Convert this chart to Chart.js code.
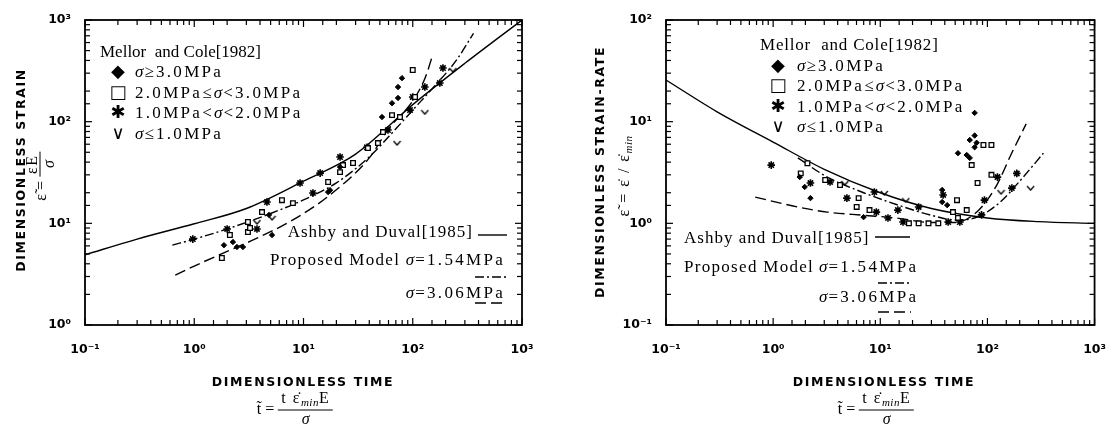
<!DOCTYPE html>
<html>
<head>
<meta charset="utf-8">
<script src="https://cdn.jsdelivr.net/npm/chart.js@4.4.0/dist/chart.umd.min.js"></script>
<style>
  body { margin: 0; width: 1115px; height: 426px; background: #fff; position: relative; overflow: hidden; }
  #left { position: absolute; left: 0; top: 0; width: 560px; height: 426px; }
  #right { position: absolute; left: 560px; top: 0; width: 555px; height: 426px; }
  .ttl { position: absolute; font-family: "DejaVu Sans", sans-serif; font-weight: bold; font-size: 12.5px;
         letter-spacing: 1.6px; white-space: nowrap; transform: translate(-50%, -50%); color: #000; }
  .rot { transform: translate(-50%, -50%) rotate(-90deg); }
  .fx { position: absolute; font-family: "Liberation Serif", serif; font-size: 16px; white-space: nowrap;
        transform: translate(-50%, -50%); display: flex; align-items: center; color: #000; }
  .fx.rot { transform: translate(-50%, -50%) rotate(-90deg); }
  .frac { display: inline-flex; flex-direction: column; align-items: center; margin-left: 4px; }
  .frac .n { border-bottom: 1px solid #000; padding: 0 3px; line-height: 16px; letter-spacing: 1.5px; }
  .frac .d { line-height: 16px; font-style: italic; }
  .sp { letter-spacing: 1.5px; }
  sub { font-size: 11px; font-style: italic; vertical-align: -3px; letter-spacing: 0.5px; }
</style>
</head>
<body>
<div id="left"><canvas id="cl"></canvas></div>
<div id="right"><canvas id="cr"></canvas></div>

<div class="ttl rot" style="left:20px; top:170px;">DIMENSIONLESS STRAIN</div>
<div class="fx rot" style="left:40px; top:176px;"><span>ε̃ =</span><span class="frac"><span class="n">εE</span><span class="d">σ</span></span></div>
<div class="ttl" style="left:303px; top:381px;">DIMENSIONLESS TIME</div>
<div class="fx" style="left:295px; top:408px;"><span>t̃ =</span><span class="frac"><span class="n">t ε̇<sub>min</sub>E</span><span class="d">σ</span></span></div>

<div class="ttl rot" style="left:599px; top:172px;">DIMENSIONLESS STRAIN-RATE</div>
<div class="fx rot" style="left:624px; top:176px;"><span class="sp">ε̃ = ε̇ / ε̇<sub>min</sub></span></div>
<div class="ttl" style="left:884px; top:381px;">DIMENSIONLESS TIME</div>
<div class="fx" style="left:876px; top:408px;"><span>t̃ =</span><span class="frac"><span class="n">t ε̇<sub>min</sub>E</span><span class="d">σ</span></span></div>

<script>
// ---- left panel: dimensionless strain vs dimensionless time ----
const strainDiamondT = [1.87, 2.26, 2.46, 2.79, 5.15, 4.83, 16.8, 17.5, 21.6, 52.3, 64.6, 73.3, 73.3, 79.7];
const strainDiamondE = [6.1, 6.55, 5.85, 5.85, 7.67, 12.1, 20.3, 21.2, 35.8, 111, 152, 171, 219, 268];
const strainSquareT = [1.79, 2.12, 3.1, 3.1, 3.24, 4.17, 6.35, 8.0, 16.8, 21.6, 23, 28.4, 38.9, 48, 53.4, 64.6, 76.4, 100, 105];
const strainSquareE = [4.56, 7.67, 8.2, 10.3, 9.0, 12.9, 16.9, 15.8, 25.5, 31.9, 37.4, 39.2, 55, 61.6, 79, 116, 111, 322, 175];
const strainStarT = [0.97, 2.0, 3.75, 4.63, 9.3, 12.2, 14.2, 21.6, 38.1, 59.3, 94.4, 100, 129, 177, 189];
const strainStarE = [7.0, 8.8, 8.8, 16.2, 24.9, 19.9, 31.2, 44.9, 56, 82.7, 130, 175, 219, 240, 337];
const strainVT = [3.75, 5.15, 71.8, 129, 233];
const strainVE = [10.3, 11.3, 61.6, 124, 322];

const ashbyStrainT = [0.1, 0.3, 1, 3, 10, 30, 100, 300, 1000];
const ashbyStrainE = [4.9, 7.0, 9.9, 14, 26, 48, 147, 375, 1000];
const model154StrainT = [0.63, 1, 2, 5, 10, 20, 40, 70, 100, 150, 250, 360];
const model154StrainE = [6.1, 7, 8.8, 12.5, 17, 25, 45, 85, 130, 210, 400, 740];
const model306StrainT = [0.67, 1, 2, 3.5, 8, 18, 40, 60, 100, 130, 150];
const model306StrainE = [3.1, 3.8, 5.3, 6.9, 10.8, 19.5, 44, 85, 160, 270, 430];

// ---- right panel: dimensionless strain-rate vs dimensionless time ----
const rateDiamondT = [76, 76, 68.4, 79.3, 76, 53.1, 64.1, 68.4, 37.8, 37.8, 42.1, 2.23, 1.97, 1.77, 6.98];
const rateDiamondR = [12.2, 7.3, 6.6, 6.2, 5.6, 4.9, 4.7, 4.4, 2.13, 1.62, 1.51, 1.77, 2.28, 2.85, 1.15];
const rateSquareT = [91.8, 109, 71.3, 80.9, 109, 2.09, 1.81, 3.06, 4.21, 6.28, 6.02, 7.93, 52, 47.7, 64.1, 53.1, 18.5, 22.8, 28.2, 34.8];
const rateSquareR = [5.9, 5.9, 3.74, 2.49, 3.0, 3.9, 3.1, 2.67, 2.38, 1.77, 1.45, 1.35, 1.69, 1.29, 1.35, 1.13, 1.0, 1.0, 1.0, 1.0];
const rateStarT = [0.96, 2.23, 3.4, 4.88, 8.81, 9.19, 11.8, 14.6, 22.8, 38.6, 55.3, 93.8, 124, 188, 169, 88.1, 16.3, 43];
const rateStarR = [3.74, 2.49, 2.55, 1.77, 2.03, 1.29, 1.13, 1.35, 1.45, 1.9, 1.03, 1.69, 2.85, 3.1, 2.22, 1.21, 1.03, 1.03];
const rateVT = [4.67, 10.9, 17.3, 134, 253];
const rateVR = [2.49, 1.99, 1.69, 2.03, 2.22];

const ashbyRateT = [0.1, 0.3, 1, 3, 10, 30, 100, 300, 1000];
const ashbyRateR = [25.7, 12.5, 6.3, 3.4, 2.0, 1.4, 1.13, 1.04, 1.0];
const model154RateT = [1.7, 3.2, 7, 15, 30, 50, 80, 130, 200, 333];
const model154RateR = [4.4, 2.85, 2.0, 1.5, 1.2, 1.08, 1.15, 1.6, 2.6, 4.9];
const model306RateT = [0.68, 1.69, 3.2, 7, 14, 30, 50, 80, 120, 170, 230];
const model306RateR = [1.81, 1.45, 1.29, 1.2, 1.13, 1.02, 1.02, 1.3, 2.3, 5.0, 9.5];

const SERIF = '17px "Liberation Serif"';
const ITAL = 'italic 17px "Liberation Serif"';
const SYM = '18px "DejaVu Sans"';

const supMap = { '-': '⁻', '0': '⁰', '1': '¹', '2': '²', '3': '³' };
function powLabel(v) {
  const p = Math.log10(v);
  const r = Math.round(p);
  if (Math.abs(p - r) > 1e-6) return '';
  return '10' + String(r).split('').map(c => supMap[c]).join('');
}

function vMark() {
  const c = document.createElement('canvas');
  c.width = 9; c.height = 6;
  const g = c.getContext('2d');
  g.strokeStyle = '#000';
  g.lineWidth = 1.3;
  g.beginPath();
  g.moveTo(1, 1); g.lineTo(4.5, 5); g.lineTo(8, 1);
  g.stroke();
  return c;
}
const vImg = vMark();

function pts(t, v) { return t.map((x, i) => ({ x: x, y: v[i] })); }

function markerSets(dT, dV, sT, sV, aT, aV, vT, vV) {
  return [
    { data: pts(dT, dV), pointStyle: 'rectRot', pointRadius: 2.7, backgroundColor: '#000', borderColor: '#000', borderWidth: 1 },
    { data: pts(sT, sV), pointStyle: 'rect', pointRadius: 3.3, backgroundColor: '#fff', borderColor: '#000', borderWidth: 1.3 },
    { data: pts(aT, aV), pointStyle: 'star', pointRadius: 3.8, borderColor: '#000', borderWidth: 1.6 },
    { data: pts(vT, vV), pointStyle: vImg, pointRadius: 4 }
  ];
}

function curve(t, v, dash) {
  return { data: pts(t, v), showLine: true, pointRadius: 0, borderColor: '#000', borderWidth: 1.4,
           borderDash: dash, fill: false, cubicInterpolationMode: 'monotone' };
}

// text runs drawn one after another; sp = extra letter spacing
function runWidth(ctx, runs) {
  let w = 0;
  runs.forEach(r => {
    ctx.font = r.f;
    if (r.sp) { for (const ch of r.t) w += ctx.measureText(ch).width + r.sp; }
    else w += ctx.measureText(r.t).width;
  });
  return w;
}
function drawRuns(ctx, x, y, runs, alignRight) {
  if (alignRight) x -= runWidth(ctx, runs);
  ctx.textBaseline = 'alphabetic';
  ctx.textAlign = 'left';
  runs.forEach(r => {
    ctx.font = r.f;
    if (r.sp) {
      for (const ch of r.t) { ctx.fillText(ch, x, y); x += ctx.measureText(ch).width + r.sp; }
    } else {
      ctx.fillText(r.t, x, y);
      x += ctx.measureText(r.t).width;
    }
  });
}
function seg(ctx, x1, x2, y, dash) {
  ctx.save();
  ctx.setLineDash(dash);
  ctx.lineWidth = 1.4;
  ctx.beginPath(); ctx.moveTo(x1, y); ctx.lineTo(x2, y); ctx.stroke();
  ctx.restore();
}

const S = (t, sp) => ({ t: t, f: SERIF, sp: sp || 0 });
const M = (t) => ({ t: t, f: SERIF, sp: 2.3 });
const G = { t: 'σ', f: ITAL, sp: 1 };
const legendRows = [
  { sym: '◆', runs: [G, M('≥3.0MPa')] },
  { sym: '□', runs: [M('2.0MPa≤'), G, M('<3.0MPa')] },
  { sym: '✱', runs: [M('1.0MPa<'), G, M('<2.0MPa')] },
  { sym: '∨', runs: [G, M('≤1.0MPa')] }
];

function drawUpperLegend(ctx, x0, y0, titleSp, symX, textX, base, gap) {
  drawRuns(ctx, x0, y0, [S('Mellor  and Cole[1982]', titleSp)]);
  legendRows.forEach((row, i) => {
    const y = base + i * gap;
    ctx.font = SYM;
    ctx.textAlign = 'center';
    ctx.fillText(row.sym, symX, y);
    drawRuns(ctx, textX, y, row.runs);
  });
}

const DASHDOT = [9, 3, 2, 3];
const LONGDASH = [11, 5];

// in-plot annotations for each canvas, keyed by canvas id
const notes = {
  cl: (ctx, a) => {
    drawUpperLegend(ctx, a.left + 15, a.top + 37, 0, a.left + 33, a.left + 50, a.top + 57, 20.5);
    const r = a.right;
    drawRuns(ctx, r - 49, a.top + 217, [S('Ashby and Duval[1985]', 1)], true);
    seg(ctx, r - 44, r - 15, a.top + 215, []);
    drawRuns(ctx, r - 17, a.top + 245, [S('Proposed Model ', 1.3), G, M('=1.54MPa')], true);
    seg(ctx, r - 47, r - 15, a.top + 257, DASHDOT);
    drawRuns(ctx, r - 17, a.top + 278, [G, M('=3.06MPa')], true);
    seg(ctx, r - 47, r - 15, a.top + 283, LONGDASH);
  },
  cr: (ctx, a) => {
    drawUpperLegend(ctx, a.left + 94, a.top + 30, 0.8, a.left + 112, a.left + 131, a.top + 51, 20.3);
    const l = a.left;
    drawRuns(ctx, l + 18, a.top + 223, [S('Ashby and Duval[1985]', 1)]);
    seg(ctx, l + 209, l + 244, a.top + 217, []);
    drawRuns(ctx, l + 18, a.top + 252, [S('Proposed Model', 1.3)]);
    drawRuns(ctx, l + 153, a.top + 252, [G, M('=1.54MPa')]);
    seg(ctx, l + 212, l + 245, a.top + 263, DASHDOT);
    drawRuns(ctx, l + 153, a.top + 282, [G, M('=3.06MPa')]);
    seg(ctx, l + 212, l + 245, a.top + 292, LONGDASH);
  }
};

const frameTicks = {
  id: 'frameTicks',
  afterDraw(chart) {
    const { ctx, chartArea: a, scales } = chart;
    ctx.save();
    ctx.strokeStyle = '#000';
    ctx.fillStyle = '#000';
    ctx.lineWidth = 1.8;
    ctx.strokeRect(a.left, a.top, a.right - a.left, a.bottom - a.top);
    ctx.lineWidth = 1.2;
    const ln = (x1, y1, x2, y2) => { ctx.beginPath(); ctx.moveTo(x1, y1); ctx.lineTo(x2, y2); ctx.stroke(); };
    scales.x.ticks.forEach(t => {
      const px = scales.x.getPixelForValue(t.value);
      const len = powLabel(t.value) ? 7 : 5;
      ln(px, a.bottom, px, a.bottom - len);
      ln(px, a.top, px, a.top + len);
    });
    scales.y.ticks.forEach(t => {
      const py = scales.y.getPixelForValue(t.value);
      const len = powLabel(t.value) ? 7 : 5;
      ln(a.left, py, a.left + len, py);
      ln(a.right, py, a.right - len, py);
    });
    notes[chart.canvas.id](ctx, a);
    ctx.restore();
  }
};

function axes(yMin, yMax, yWidth) {
  const tickFont = { family: 'DejaVu Sans', weight: 'bold', size: 12.5 };
  return {
    x: { type: 'logarithmic', min: 0.1, max: 1000,
         ticks: { autoSkip: false, maxRotation: 0, padding: 9, color: '#000', font: tickFont, callback: powLabel },
         grid: { display: false }, border: { display: false },
         afterFit: s => { s.height = 30; } },
    y: { type: 'logarithmic', min: yMin, max: yMax,
         ticks: { autoSkip: false, padding: 6, color: '#000', font: tickFont, callback: powLabel },
         grid: { display: false }, border: { display: false },
         afterFit: s => { s.width = yWidth; } }
  };
}

function baseOptions(padding, yMin, yMax) {
  return {
    animation: false,
    responsive: true,
    maintainAspectRatio: false,
    events: [],
    layout: { padding: padding },
    scales: axes(yMin, yMax, 60),
    plugins: { legend: { display: false }, tooltip: { enabled: false } }
  };
}

new Chart(document.getElementById('cl'), {
  type: 'scatter',
  data: {
    datasets: markerSets(strainDiamondT, strainDiamondE, strainSquareT, strainSquareE,
                         strainStarT, strainStarE, strainVT, strainVE).concat([
      curve(ashbyStrainT, ashbyStrainE, []),
      curve(model154StrainT, model154StrainE, DASHDOT),
      curve(model306StrainT, model306StrainE, LONGDASH)
    ])
  },
  options: baseOptions({ left: 25, top: 20, right: 38, bottom: 71 }, 1, 1000),
  plugins: [frameTicks]
});

new Chart(document.getElementById('cr'), {
  type: 'scatter',
  data: {
    datasets: markerSets(rateDiamondT, rateDiamondR, rateSquareT, rateSquareR,
                         rateStarT, rateStarR, rateVT, rateVR).concat([
      curve(ashbyRateT, ashbyRateR, []),
      curve(model154RateT, model154RateR, DASHDOT),
      curve(model306RateT, model306RateR, LONGDASH)
    ])
  },
  options: baseOptions({ left: 46, top: 20, right: 13, bottom: 71 }, 0.1, 100),
  plugins: [frameTicks]
});
</script>
</body>
</html>
